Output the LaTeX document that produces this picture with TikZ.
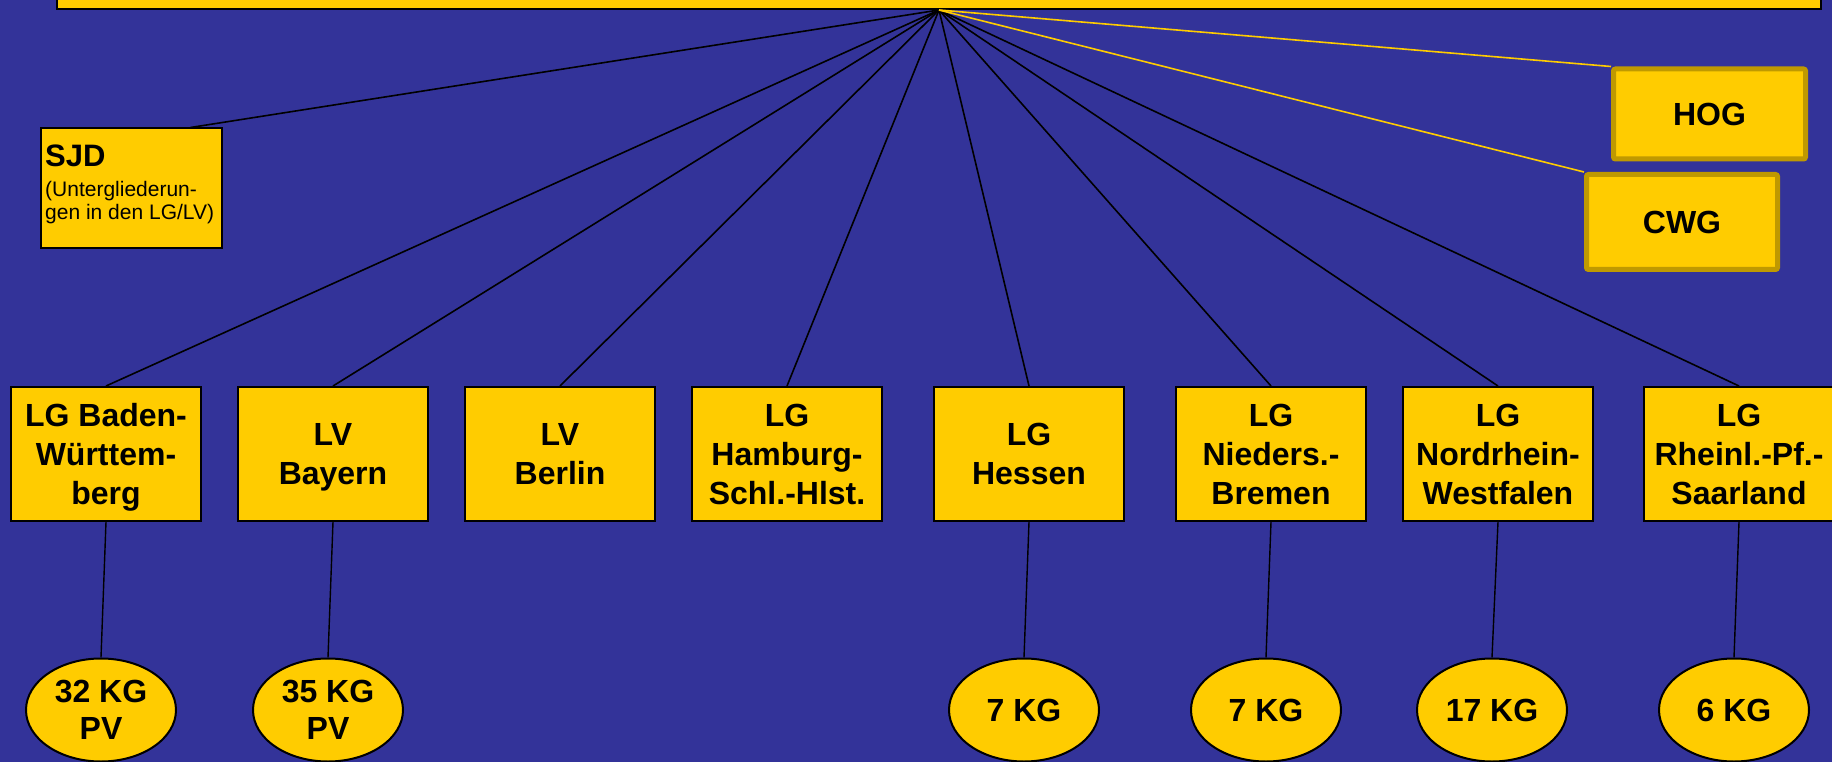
\documentclass[tikz,border=0pt]{standalone}
\usepackage{fontspec}
\setmainfont{Liberation Sans}
\usetikzlibrary{shapes.geometric}
\definecolor{bgblue}{RGB}{51,51,153}
\definecolor{gelb}{RGB}{255,204,0}
\definecolor{goldrand}{RGB}{191,153,0}
\begin{document}
\begin{tikzpicture}[x=1pt,y=-1pt,
 lbox/.style={draw=black,fill=gelb,line width=2pt,minimum width=190pt,minimum height=134pt,inner sep=0pt,align=center,text depth=0pt,font=\fontsize{32}{39}\selectfont\bfseries},
 kg/.style={ellipse,draw=black,fill=gelb,line width=2pt,minimum width=150pt,minimum height=103pt,inner sep=0pt,align=center,text depth=0pt,font=\fontsize{32}{37}\selectfont\bfseries},
 obox/.style={draw=goldrand,fill=gelb,line width=5pt,rounded corners=2pt,minimum width=192pt,minimum height=90pt,inner sep=0pt,font=\fontsize{32}{39}\selectfont\bfseries},
 link/.style={draw=black,line width=1.6pt},
 ylink/.style={draw=gelb,line width=1.6pt}]
\useasboundingbox (0,0) rectangle (1832,762);
\clip (0,0) rectangle (1832,762);
\fill[bgblue] (0,0) rectangle (1832,762);

% top box
\node[draw=black,fill=gelb,line width=2pt,minimum width=1764pt,minimum height=67pt,inner sep=0pt] (top) at (939,-24.5) {};

% SJD
\node[draw=black,fill=gelb,line width=2pt,minimum width=181pt,minimum height=120pt,inner sep=0pt] (sjd) at (131.5,188.5) {};
\node[anchor=north west,inner sep=0pt,align=left,font=\fontsize{21}{23}\selectfont] (sjdtext) at (45,145)
 {{\fontsize{31}{32}\selectfont\bfseries SJD}\\[7pt](Untergliederun-\\gen in den LG/LV)};

% HOG / CWG
\node[obox] (hog) at (1709.5,114) {HOG};
\node[obox,minimum width=191pt,minimum height=95pt] (cwg) at (1682,222) {CWG};

% Landes boxes
\node[lbox] (bw) at (106,454) {LG Baden-\\Württem-\\berg};
\node[lbox] (by) at (333,454) {LV\\Bayern};
\node[lbox] (be) at (560,454) {LV\\Berlin};
\node[lbox] (hh) at (787,454) {LG\\Hamburg-\\Schl.-Hlst.};
\node[lbox] (he) at (1029,454) {LG\\Hessen};
\node[lbox] (ni) at (1271,454) {LG\\Nieders.-\\Bremen};
\node[lbox] (nw) at (1498,454) {LG\\Nordrhein-\\Westfalen};
\node[lbox] (rp) at (1739,454) {LG\\Rheinl.-Pf.-\\Saarland};

% KG ellipses
\node[kg] (kbw) at (101,710) {32 KG\\PV};
\node[kg] (kby) at (328,710) {35 KG\\PV};
\node[kg] (khe) at (1024,710) {7 KG};
\node[kg] (kni) at (1266,710) {7 KG};
\node[kg] (knw) at (1492,710) {17 KG};
\node[kg] (krp) at (1734,710) {6 KG};

% connectors from the top
\draw[link] (top.south) -- ([xshift=59pt]sjd.north);
\foreach \n in {bw,by,be,hh,he,ni,nw,rp}{
  \draw[link] (top.south) -- (\n.north);
}
\draw[ylink] (top.south) -- (hog.north west);
\draw[ylink] (top.south) -- (cwg.north west);

% connectors down
\draw[link,line width=1.4pt] (bw.south) -- (kbw.north);
\draw[link,line width=1.4pt] (by.south) -- (kby.north);
\draw[link,line width=1.4pt] (he.south) -- (khe.north);
\draw[link,line width=1.4pt] (ni.south) -- (kni.north);
\draw[link,line width=1.4pt] (nw.south) -- (knw.north);
\draw[link,line width=1.4pt] (rp.south) -- (krp.north);
\end{tikzpicture}
\end{document}
